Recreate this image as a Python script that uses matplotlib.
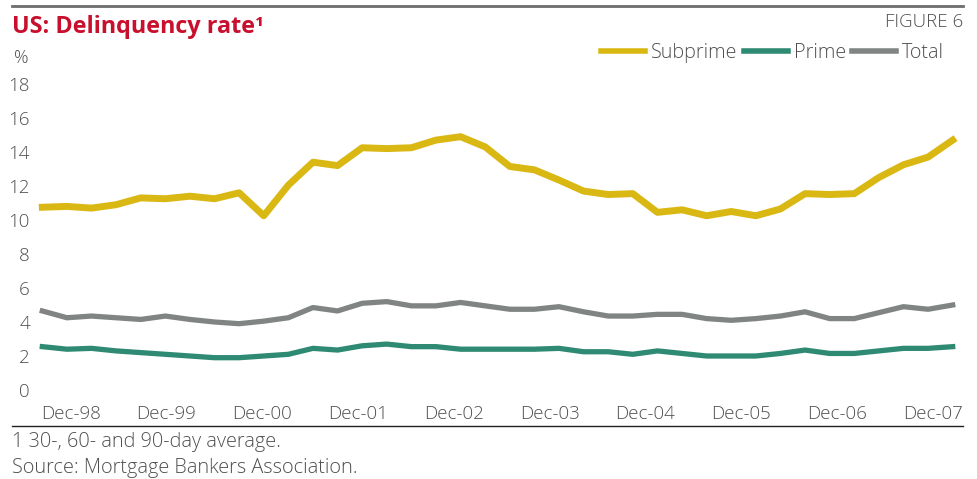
import matplotlib.pyplot as plt
import numpy as np

plt.rcParams['font.family'] = ['Open Sans', 'DejaVu Sans']
plt.rcParams['font.weight'] = 'light'

# quarterly delinquency rates, %
subprime = [10.75, 10.8, 10.7, 10.9, 11.3, 11.25, 11.4, 11.25, 11.6, 10.25,
            12.05, 13.4, 13.2, 14.25, 14.2, 14.25, 14.7, 14.9, 14.3, 13.15,
            12.95, 12.35, 11.7, 11.5, 11.55, 10.45, 10.6, 10.25, 10.5, 10.25,
            10.65, 11.55, 11.5, 11.55, 12.5, 13.25, 13.7, 14.7]
prime = [2.55, 2.4, 2.45, 2.3, 2.2, 2.1, 2.0, 1.9, 1.9, 2.0,
         2.1, 2.45, 2.35, 2.6, 2.7, 2.55, 2.55, 2.4, 2.4, 2.4,
         2.4, 2.45, 2.25, 2.25, 2.1, 2.3, 2.15, 2.0, 2.0, 2.0,
         2.15, 2.35, 2.15, 2.15, 2.3, 2.45, 2.45, 2.55]
total = [4.65, 4.25, 4.35, 4.25, 4.15, 4.35, 4.15, 4.0, 3.9, 4.05,
         4.25, 4.85, 4.65, 5.1, 5.2, 4.95, 4.95, 5.15, 4.95, 4.75,
         4.75, 4.9, 4.6, 4.35, 4.35, 4.45, 4.45, 4.2, 4.1, 4.2,
         4.35, 4.6, 4.2, 4.2, 4.55, 4.9, 4.75, 5.0]
year_labels = ['Dec-98', 'Dec-99', 'Dec-00', 'Dec-01', 'Dec-02',
               'Dec-03', 'Dec-04', 'Dec-05', 'Dec-06', 'Dec-07']

text_color = '#4f4f4f'
red = '#c8102e'

fig = plt.figure(figsize=(9.78, 4.79), dpi=100, facecolor='white')
ax = fig.add_axes([30/978, 89/479, 935/978, 306/479])

x = np.arange(len(subprime))
ax.plot(x, subprime, color='#dab814', lw=5, label='Subprime', clip_on=False)
ax.plot(x, prime, color='#2f8a73', lw=3.8, label='Prime', clip_on=False)
ax.plot(x, total, color='#808583', lw=3.8, label='Total', clip_on=False)

ax.set_xlim(-0.5, 37.5)
ax.set_ylim(0, 18)
ax.set_yticks(range(0, 19, 2))
ax.set_xticks(np.linspace(1.15, 36.2, len(year_labels)))
ax.set_xticklabels(year_labels)
ax.tick_params(length=0, labelsize=13.5, colors=text_color)
ax.tick_params(axis='x', pad=11)
ax.tick_params(axis='y', pad=0)
for s in ax.spines.values():
    s.set_visible(False)

# legend on top right
leg = ax.legend(loc='center right', bbox_to_anchor=(962/978, 1 - 53/479),
                bbox_transform=fig.transFigure, ncol=3, frameon=False,
                handlelength=2.25, handletextpad=0.3, columnspacing=0.3,
                prop={'size': 14.2, 'weight': 'light'})
for t in leg.get_texts():
    t.set_color(text_color)
for h in leg.get_lines():
    h.set_linewidth(4)

# frame lines and texts
fig.add_artist(plt.Line2D([12/978, 963/978], [1 - 6/479, 1 - 6/479], color='#6d6d6d', lw=2))
fig.add_artist(plt.Line2D([12/978, 963/978], [1 - 426/479, 1 - 426/479], color='#222222', lw=1))
fig.text(12/978, 1 - 27/479, 'US: Delinquency rate\u00b9', color=red, fontsize=16.8,
         fontweight='bold', va='center', ha='left')
fig.text(963/978, 1 - 22/479, 'FIGURE 6', color=text_color, fontsize=13.5,
         va='center', ha='right')
fig.text(14/978, 1 - 58/479, '%', color=text_color, fontsize=13, va='center', ha='left')
fig.text(12/978, 1 - 442/479, '1 30-, 60- and 90-day average.', color=text_color,
         fontsize=14.3, va='center', ha='left')
fig.text(12/978, 1 - 468/479, 'Source: Mortgage Bankers Association.', color=text_color,
         fontsize=14.3, va='center', ha='left')

plt.savefig('out.png', dpi=100)
